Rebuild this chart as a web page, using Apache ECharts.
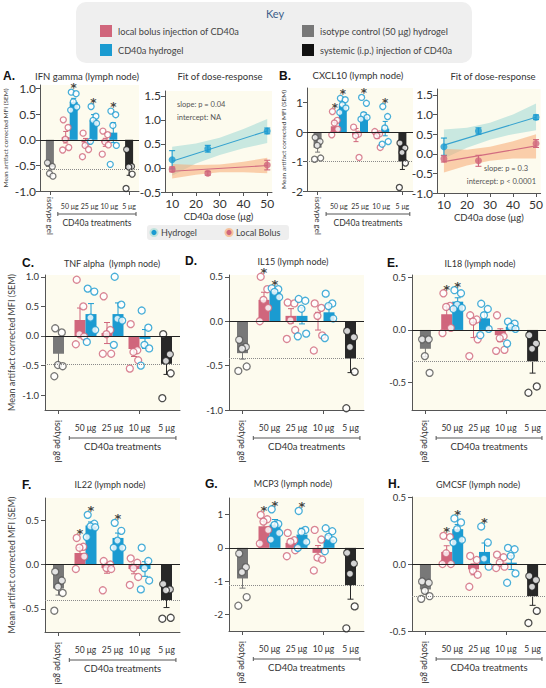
<!DOCTYPE html>
<html><head><meta charset="utf-8">
<script src="https://cdn.jsdelivr.net/npm/echarts@6/dist/echarts.min.js"></script>
<style>html,body{margin:0;padding:0;background:#fff}#c{width:546px;height:688px}</style>
</head><body><div id="c"></div>
<script>
// ---------------- DATA ----------------
const categories = ['isotype gel', '50 μg', '25 μg', '10 μg', '5 μg'];
const fitDoses = [10, 25, 50];
const bandDoses = [10, 20, 30, 40, 50];
const lineDoses = [10, 50];
const doseTicks = [10, 20, 30, 40, 50];

// A. IFN gamma
const A_pink = [0.05, -0.05, -0.05];
const A_blue = [0.74, 0.38, 0.14];
const A_ctrl = [-0.53, -0.57];
const A_ptsIso = [-0.45, -0.52, -0.66, -0.71];
const A_ptsPink = [[0.39, 0.24, 0.01, -0.15, -0.2], [0.13, -0.04, -0.11, -0.19, -0.33], [0.17, 0.1, -0.04, -0.1, -0.28]];
const A_ptsBlue = [[0.93, 0.9, 0.74, 0.64, 0.58], [0.65, 0.46, 0.38, 0.32, -0.03], [0.56, 0.49, 0.28, -0.11, -0.48]];
const A_ptsSys = [-0.19, -0.52, -0.53, -0.67, -0.95];
const A_starPink = [0, 0, 0];
const A_starBlue = [1, 1, 1];

// B. CXCL10
const B_pink = [0.2, -0.1, -0.1];
const B_blue = [0.9, 0.52, 0.12];
const B_ctrl = [-0.53, -1.0];
const B_ptsIso = [-0.18, -0.32, -0.45, -0.88, -0.92];
const B_ptsPink = [[0.7, 0.4, 0.31, 0.1, -0.09], [0.17, -0.07, -0.12, -0.86], [0.02, -0.06, -0.12, -0.52]];
const B_ptsBlue = [[1.15, 1.1, 0.93, 0.82, 0.67], [1.18, 0.98, 0.59, 0.5, 0.44], [0.87, 0.53, 0.14, -0.32, -0.41]];
const B_ptsSys = [-0.37, -0.54, -0.69, -1.05, -1.88];
const B_starPink = [1, 0, 0];
const B_starBlue = [1, 1, 1];

// C. TNF alpha
const C_pink = [0.27, 0.05, -0.22];
const C_blue = [0.37, 0.37, -0.05];
const C_ctrl = [-0.3, -0.47];
const C_ptsIso = [0.13, 0.06, -0.49, -0.51, -0.68];
const C_ptsPink = [[0.95, 0.5, 0.03, -0.01, -0.14], [0.67, 0.1, 0.03, -0.3, -0.3], [0.2, -0.24, -0.27, -0.41, -0.55]];
const C_ptsBlue = [[0.8, 0.75, 0.31, 0.1, -0.1], [1.0, 0.53, 0.29, 0.26, -0.15], [0.43, 0.14, -0.15, -0.21, -0.5]];
const C_ptsSys = [0.03, -0.31, -0.42, -0.63, -1.05];
const C_starPink = [0, 0, 0];
const C_starBlue = [0, 0, 0];

// D. IL15
const D_pink = [0.24, 0.06, 0.0];
const D_blue = [0.33, 0.06, 0.1];
const D_ctrl = [-0.36, -0.42];
const D_ptsIso = [-0.21, -0.29, -0.31, -0.51, -0.56];
const D_ptsPink = [[0.5, 0.36, 0.24, 0.15, 0.0], [0.21, 0.2, 0.01, -0.1, -0.2], [0.2, 0.15, 0.06, -0.16, -0.33]];
const D_ptsBlue = [[0.37, 0.36, 0.33, 0.27], [0.25, 0.23, 0.14, -0.14, -0.17], [0.31, 0.2, 0.17, 0.03, -0.19]];
const D_ptsSys = [-0.11, -0.18, -0.29, -0.57, -0.98];
const D_starPink = [1, 0, 0];
const D_starBlue = [1, 0, 0];

// E. IL18
const E_pink = [0.15, 0.0, -0.05];
const E_blue = [0.27, 0.11, 0.03];
const E_ctrl = [-0.18, -0.3];
const E_ptsIso = [-0.09, -0.09, -0.25, -0.41];
const E_ptsPink = [[0.35, 0.23, 0.22, 0.02, -0.03], [0.14, 0.1, 0.08, -0.09, -0.25], [0.14, -0.06, -0.08, -0.19, -0.2]];
const E_ptsBlue = [[0.38, 0.35, 0.24, 0.21, 0.2], [0.25, 0.2, 0.14, 0.01, -0.05], [0.08, 0.06, 0.03, 0.01, -0.13]];
const E_ptsSys = [-0.05, -0.13, -0.18, -0.54, -0.6];
const E_starPink = [1, 0, 0];
const E_starBlue = [1, 0, 0];

// F. IL22
const F_pink = [0.13, -0.04, -0.05];
const F_blue = [0.44, 0.3, -0.05];
const F_ctrl = [-0.27, -0.4];
const F_ptsIso = [-0.08, -0.18, -0.25, -0.32, -0.52];
const F_ptsPink = [[0.3, 0.2, 0.19, 0.09, -0.05], [0.04, 0.0, -0.04, -0.05, -0.29], [0.07, 0.02, -0.04, -0.14, -0.23]];
const F_ptsBlue = [[0.56, 0.46, 0.43, 0.42, 0.31], [0.47, 0.38, 0.27, 0.19, 0.19], [0.19, 0.04, -0.04, -0.18, -0.28]];
const F_ptsSys = [-0.22, -0.28, -0.29, -0.6, -0.61];
const F_starPink = [1, 0, 0];
const F_starBlue = [1, 1, 0];

// G. MCP3
const G_pink = [0.65, 0.15, -0.15];
const G_blue = [0.7, 0.4, 0.25];
const G_ctrl = [-0.92, -1.12];
const G_ptsIso = [-0.17, -0.58, -0.73, -1.48, -1.74];
const G_ptsPink = [[0.99, 0.86, 0.79, 0.54, 0.13], [0.45, 0.23, 0.18, -0.07, -0.25], [0.54, 0.25, -0.29, -0.35, -0.68]];
const G_ptsBlue = [[1.16, 0.72, 0.69, 0.45, 0.25], [1.11, 0.54, 0.48, 0.18, 0.0], [0.59, 0.5, 0.33, 0.23, -0.1]];
const G_ptsSys = [-0.15, -0.47, -0.78, -1.76, -2.42];
const G_starPink = [1, 0, 0];
const G_starBlue = [1, 1, 0];

// H. GMCSF
const H_pink = [0.09, -0.04, 0.0];
const H_blue = [0.26, 0.09, 0.01];
const H_ctrl = [-0.19, -0.24];
const H_ptsIso = [-0.13, -0.14, -0.2, -0.24, -0.26];
const H_ptsPink = [[0.21, 0.2, 0.08, 0.0, 0.0], [0.06, 0.03, -0.05, -0.08, -0.17], [0.07, 0.05, 0.01, -0.02, -0.03]];
const H_ptsBlue = [[0.34, 0.31, 0.26, 0.18, 0.16], [0.28, 0.16, 0.04, -0.02], [0.12, 0.11, 0.06, -0.07, -0.14]];
const H_ptsSys = [-0.09, -0.12, -0.17, -0.35, -0.44];
const H_starPink = [1, 0, 0];
const H_starBlue = [1, 1, 0];

// Fits of dose-response
const fitA_hydro = [0.17, 0.40, 0.77];
const fitA_hydroSem = [0.19, 0.07, 0.06];
const fitA_bolus = [-0.03, -0.11, 0.06];
const fitA_bolusSem = [0.05, 0.04, 0.1];
const fitA_hydroLine = [0.14, 0.77];
const fitA_bolusLine = [-0.07, 0.05];
const fitA_hydroLo = [-0.16, 0.09, 0.27, 0.41, 0.52];
const fitA_hydroHi = [0.44, 0.51, 0.63, 0.81, 1.02];
const fitA_bolusLo = [-0.22, -0.14, -0.09, -0.09, -0.11];
const fitA_bolusHi = [0.08, 0.06, 0.07, 0.13, 0.21];

const fitB_hydro = [0.18, 0.58, 0.93];
const fitB_hydroSem = [0.22, 0.08, 0.06];
const fitB_bolus = [-0.13, -0.18, 0.26];
const fitB_bolusSem = [0.08, 0.14, 0.1];
const fitB_hydroLine = [0.22, 0.93];
const fitB_bolusLine = [-0.2, 0.2];
const fitB_hydroLo = [-0.12, 0.15, 0.36, 0.5, 0.6];
const fitB_hydroHi = [0.62, 0.66, 0.79, 1.0, 1.28];
const fitB_bolusLo = [-0.48, -0.3, -0.18, -0.12, -0.12];
const fitB_bolusHi = [0.12, 0.1, 0.18, 0.32, 0.5];

// ---------------- CHART ----------------
const FONT = "Lato, 'Open Sans', sans-serif";
const COL = {pink: '#d0667c', blue: '#1b9bd1', gray: '#787878', black: '#282828', bg: '#fdfbee',
  teal: '#c9e8e0', orange: 'rgba(247,170,115,0.55)', axis: '#555', text: '#333'};

const chart = echarts.init(document.getElementById('c'), null, {renderer: 'svg', width: 546, height: 688});
const opt = {animation: false, backgroundColor: '#fff', grid: [], xAxis: [], yAxis: [], series: []};
const brackets = [];

function mean(a) { return a.reduce((s, v) => s + v, 0) / a.length; }
function sem(a) {
  const m = mean(a);
  const sd = Math.sqrt(a.reduce((s, v) => s + (v - m) * (v - m), 0) / (a.length - 1));
  return sd / Math.sqrt(a.length);
}
function jit(k) { return [-0.3, 0.3, -0.05, 0.38, -0.38, 0.15][k % 6]; }

function yAxisCfg(gi, c, small) {
  return {type: 'value', gridIndex: gi, min: c.ymin, max: c.ymax,
    axisLine: {show: true, onZero: false, lineStyle: {color: COL.axis, width: 1}},
    axisTick: {show: true, length: 4, customValues: c.ticks, lineStyle: {color: COL.axis}},
    axisLabel: {customValues: c.ticks, formatter: v => v.toFixed(c.dec), fontSize: small ? 12 : 9.5,
      color: COL.text, fontFamily: FONT, margin: small ? 4 : 6},
    splitLine: {show: false},
    name: c.yname ? 'Mean artifact corrected MFI (SEM)' : '', nameLocation: 'middle', nameGap: c.nameGap || 30,
    nameRotate: 90, nameTextStyle: {fontSize: small ? 6.5 : 9, color: '#444', fontFamily: FONT}};
}

function addBarPanel(c) {
  const gi = opt.grid.length, xa = opt.xAxis.length, ya = opt.yAxis.length;
  const small = !!c.small;
  const lf = small ? 7 : 8.5;
  const bw = small ? 8 : 11, ps = small ? 6 : 7;
  opt.grid.push({left: c.left, top: c.top, width: c.width, height: c.height, show: true,
    backgroundColor: COL.bg, borderWidth: 0});
  opt.xAxis.push({type: 'category', gridIndex: gi, data: categories, position: 'bottom',
    axisLine: {show: true, onZero: false, lineStyle: {color: COL.axis, width: 1}},
    axisTick: {show: true, alignWithLabel: true, length: 4, lineStyle: {color: COL.axis}},
    axisLabel: {show: false},
    splitLine: {show: false}});
  opt.xAxis.push({type: 'category', gridIndex: gi, data: categories, position: 'bottom',
    axisLine: {show: false, onZero: false}, axisTick: {show: false},
    axisLabel: {interval: 0, margin: small ? 11 : 13, fontSize: lf, color: COL.text, fontFamily: FONT,
      formatter: (v, i) => i === 0 ? '' : v},
    splitLine: {show: false}});
  opt.yAxis.push(yAxisCfg(gi, c, small));

  const iso = c.ctrl[0], sys = c.ctrl[1];
  opt.series.push({name: 'isotype control (50 μg) hydrogel', type: 'bar', xAxisIndex: xa, yAxisIndex: ya,
    stack: 'ctrl' + gi, barWidth: bw, data: [iso, '-', '-', '-', '-'], itemStyle: {color: COL.gray}, z: 2,
    markLine: {silent: true, symbol: 'none', label: {show: false}, animation: false,
      lineStyle: {color: '#222', width: 1, type: 'solid'}, data: [{yAxis: 0}]}});
  opt.series.push({name: 'systemic (i.p.) injection of CD40a', type: 'bar', xAxisIndex: xa, yAxisIndex: ya,
    stack: 'ctrl' + gi, barWidth: bw, data: ['-', '-', '-', '-', sys], itemStyle: {color: COL.black}, z: 2,
    markLine: {silent: true, symbol: 'none', label: {show: false}, animation: false,
      lineStyle: {color: '#8a8a8a', width: 1, type: 'dotted'}, data: [{yAxis: sys}]}});
  opt.series.push({name: 'local bolus injection of CD40a', type: 'bar', xAxisIndex: xa + 1, yAxisIndex: ya,
    barWidth: bw, barGap: '0%', data: ['-', ...c.pink, '-'], itemStyle: {color: COL.pink}, z: 2});
  opt.series.push({name: 'CD40a hydrogel', type: 'bar', xAxisIndex: xa + 1, yAxisIndex: ya,
    barWidth: bw, barGap: '0%', data: ['-', ...c.blue, '-'], itemStyle: {color: COL.blue}, z: 2});

  const groups = [{cat: 0, off: 0, pts: c.ptsIso, mean: iso, fill: COL.gray, stroke: '#555', star: 0}];
  for (let d = 0; d < 3; d++) {
    groups.push({cat: d + 1, off: -bw / 2, pts: c.ptsPink[d], mean: c.pink[d], fill: COL.pink, stroke: COL.pink, star: c.starPink[d]});
    groups.push({cat: d + 1, off: bw / 2, pts: c.ptsBlue[d], mean: c.blue[d], fill: COL.blue, stroke: COL.blue, star: c.starBlue[d]});
  }
  groups.push({cat: 4, off: 0, pts: c.ptsSys, mean: sys, fill: COL.black, stroke: '#222', star: 0});

  // error bars (SEM)
  opt.series.push({type: 'custom', xAxisIndex: xa, yAxisIndex: ya, z: 3, silent: true,
    data: groups.map(g => [g.cat, g.mean, sem(g.pts)]),
    renderItem: (params, api) => {
      const g = groups[params.dataIndex];
      const cidx = api.value(0), m = api.value(1), s = api.value(2);
      const p1 = api.coord([cidx, m + s]), p2 = api.coord([cidx, m - s]);
      const x = p1[0] + g.off, cw = small ? 2.5 : 3;
      const st = {stroke: g.fill, lineWidth: 1};
      return {type: 'group', children: [
        {type: 'line', shape: {x1: x, y1: p1[1], x2: x, y2: p2[1]}, style: st},
        {type: 'line', shape: {x1: x - cw, y1: p1[1], x2: x + cw, y2: p1[1]}, style: st},
        {type: 'line', shape: {x1: x - cw, y1: p2[1], x2: x + cw, y2: p2[1]}, style: st}]};
    }});

  // individual points
  groups.forEach(g => {
    opt.series.push({type: 'scatter', xAxisIndex: xa, yAxisIndex: ya, z: 4, silent: true,
      symbol: 'circle', symbolSize: ps,
      itemStyle: {color: '#fff', borderColor: g.stroke, borderWidth: 1.3},
      data: g.pts.map((v, k) => ({value: [g.cat, v], symbolOffset: [g.off + jit(k) * bw, 0]}))});
  });

  // significance stars
  const starItems = groups.filter(g => g.star).map(g => ({value: [g.cat, Math.max(...g.pts)],
    label: {offset: [g.off, -4]}}));
  if (starItems.length) {
    opt.series.push({type: 'scatter', xAxisIndex: xa, yAxisIndex: ya, z: 6, silent: true,
      symbol: 'circle', symbolSize: 1, itemStyle: {color: 'rgba(0,0,0,0)'},
      label: {show: true, position: 'inside', formatter: '*', fontSize: small ? 12 : 13, fontWeight: 'bold',
        color: '#111', fontFamily: 'DejaVu Sans', lineHeight: 10},
      data: starItems});
  }
  brackets.push({xa: xa + 1, xaCtrl: xa, bottom: c.top + c.height, small});
}

function addFitPanel(c) {
  const gi = opt.grid.length, xa = opt.xAxis.length, ya = opt.yAxis.length;
  opt.grid.push({left: c.left, top: c.top, width: c.width, height: c.height, show: true,
    backgroundColor: COL.bg, borderWidth: 0});
  opt.xAxis.push({type: 'value', gridIndex: gi, min: 7, max: 52, position: 'bottom',
    axisLine: {show: true, onZero: false, lineStyle: {color: COL.axis, width: 1}},
    axisTick: {show: true, length: 4, customValues: doseTicks, lineStyle: {color: COL.axis}},
    axisLabel: {customValues: doseTicks, fontSize: 12, margin: 5, color: COL.text, fontFamily: FONT},
    splitLine: {show: false},
    name: 'CD40a dose (μg)', nameLocation: 'middle', nameGap: 19,
    nameTextStyle: {fontSize: 9.5, color: COL.text, fontFamily: FONT}});
  opt.yAxis.push(yAxisCfg(gi, c, true));

  const band = (lo, hi, color) => ({type: 'custom', xAxisIndex: xa, yAxisIndex: ya, z: 1, silent: true,
    data: bandDoses.map((d, i) => [d, lo[i], hi[i]]), encode: {x: 0, y: [1, 2]},
    renderItem: (params, api) => {
      if (params.dataIndex !== 0) return null;
      const pts = [];
      for (let i = 0; i < bandDoses.length; i++) pts.push(api.coord([bandDoses[i], hi[i]]));
      for (let i = bandDoses.length - 1; i >= 0; i--) pts.push(api.coord([bandDoses[i], lo[i]]));
      return {type: 'polygon', shape: {points: pts}, style: {fill: color}};
    }});
  opt.series.push(band(c.hydroLo, c.hydroHi, COL.teal));
  opt.series.push(band(c.bolusLo, c.bolusHi, COL.orange));

  const line = (vals, color) => ({type: 'line', xAxisIndex: xa, yAxisIndex: ya, z: 3, silent: true,
    symbol: 'none', lineStyle: {color, width: 1.1}, data: lineDoses.map((d, i) => [d, vals[i]])});
  opt.series.push(line(c.hydroLine, '#36a2cf'));
  opt.series.push(line(c.bolusLine, '#d26c80'));

  const err = (vals, sems, color) => ({type: 'custom', xAxisIndex: xa, yAxisIndex: ya, z: 4, silent: true,
    data: fitDoses.map((d, i) => [d, vals[i], sems[i]]),
    renderItem: (params, api) => {
      const d = api.value(0), m = api.value(1), s = api.value(2);
      const p1 = api.coord([d, m + s]), p2 = api.coord([d, m - s]);
      const x = p1[0], cw = 3, st = {stroke: color, lineWidth: 1.1};
      return {type: 'group', children: [
        {type: 'line', shape: {x1: x, y1: p1[1], x2: x, y2: p2[1]}, style: st},
        {type: 'line', shape: {x1: x - cw, y1: p1[1], x2: x + cw, y2: p1[1]}, style: st},
        {type: 'line', shape: {x1: x - cw, y1: p2[1], x2: x + cw, y2: p2[1]}, style: st}]};
    }});
  opt.series.push(err(c.hydro, c.hydroSem, COL.blue));
  opt.series.push(err(c.bolus, c.bolusSem, COL.pink));
  const pts = (vals, color, name) => ({name, type: 'scatter', xAxisIndex: xa, yAxisIndex: ya, z: 5, silent: true,
    symbol: 'circle', symbolSize: 7, itemStyle: {color}, data: fitDoses.map((d, i) => [d, vals[i]])});
  opt.series.push(pts(c.hydro, COL.blue, 'Hydrogel'));
  opt.series.push(pts(c.bolus, COL.pink, 'Local Bolus'));
}

const T1 = [-1, -0.5, 0, 0.5, 1];
addBarPanel({left: 40, top: 85, width: 99, height: 106, ymin: -1, ymax: 1.07, ticks: T1, dec: 1, small: true,
  yname: true, nameGap: 31, pink: A_pink, blue: A_blue, ctrl: A_ctrl, ptsIso: A_ptsIso, ptsPink: A_ptsPink,
  ptsBlue: A_ptsBlue, ptsSys: A_ptsSys, starPink: A_starPink, starBlue: A_starBlue});
addFitPanel({left: 165, top: 91, width: 107, height: 101, ymin: -0.5, ymax: 1.6, ticks: [-0.5, 0, 0.5, 1, 1.5], dec: 1,
  hydro: fitA_hydro, hydroSem: fitA_hydroSem, bolus: fitA_bolus, bolusSem: fitA_bolusSem,
  hydroLine: fitA_hydroLine, bolusLine: fitA_bolusLine, hydroLo: fitA_hydroLo, hydroHi: fitA_hydroHi,
  bolusLo: fitA_bolusLo, bolusHi: fitA_bolusHi});
addBarPanel({left: 307, top: 88, width: 106, height: 103, ymin: -2, ymax: 1.5, ticks: [-2, -1, 0, 1], dec: 0, small: true,
  yname: true, nameGap: 20, pink: B_pink, blue: B_blue, ctrl: B_ctrl, ptsIso: B_ptsIso, ptsPink: B_ptsPink,
  ptsBlue: B_ptsBlue, ptsSys: B_ptsSys, starPink: B_starPink, starBlue: B_starBlue});
addFitPanel({left: 437, top: 89, width: 108, height: 104, ymin: -1, ymax: 1.65, ticks: [-1, -0.5, 0, 0.5, 1, 1.5], dec: 1,
  hydro: fitB_hydro, hydroSem: fitB_hydroSem, bolus: fitB_bolus, bolusSem: fitB_bolusSem,
  hydroLine: fitB_hydroLine, bolusLine: fitB_bolusLine, hydroLo: fitB_hydroLo, hydroHi: fitB_hydroHi,
  bolusLo: fitB_bolusLo, bolusHi: fitB_bolusHi});
addBarPanel({left: 45, top: 275, width: 135, height: 135, ymin: -1.25, ymax: 1.03, ticks: T1, dec: 1,
  yname: true, nameGap: 29, pink: C_pink, blue: C_blue, ctrl: C_ctrl, ptsIso: C_ptsIso, ptsPink: C_ptsPink,
  ptsBlue: C_ptsBlue, ptsSys: C_ptsSys, starPink: C_starPink, starBlue: C_starBlue});
addBarPanel({left: 229, top: 275, width: 135, height: 135, ymin: -1.0, ymax: 0.52, ticks: [-1, -0.5, 0, 0.5], dec: 1,
  pink: D_pink, blue: D_blue, ctrl: D_ctrl, ptsIso: D_ptsIso, ptsPink: D_ptsPink,
  ptsBlue: D_ptsBlue, ptsSys: D_ptsSys, starPink: D_starPink, starBlue: D_starBlue});
addBarPanel({left: 412, top: 275, width: 134, height: 135, ymin: -0.765, ymax: 0.525, ticks: [-0.5, 0, 0.5], dec: 1,
  pink: E_pink, blue: E_blue, ctrl: E_ctrl, ptsIso: E_ptsIso, ptsPink: E_ptsPink,
  ptsBlue: E_ptsBlue, ptsSys: E_ptsSys, starPink: E_starPink, starBlue: E_starBlue});
addBarPanel({left: 45, top: 498, width: 135, height: 134, ymin: -0.76, ymax: 0.75, ticks: [-0.5, 0, 0.5], dec: 1,
  yname: true, nameGap: 29, pink: F_pink, blue: F_blue, ctrl: F_ctrl, ptsIso: F_ptsIso, ptsPink: F_ptsPink,
  ptsBlue: F_ptsBlue, ptsSys: F_ptsSys, starPink: F_starPink, starBlue: F_starBlue});
addBarPanel({left: 229, top: 498, width: 135, height: 133, ymin: -2.5, ymax: 1.5, ticks: [-2, -1, 0, 1], dec: 0,
  pink: G_pink, blue: G_blue, ctrl: G_ctrl, ptsIso: G_ptsIso, ptsPink: G_ptsPink,
  ptsBlue: G_ptsBlue, ptsSys: G_ptsSys, starPink: G_starPink, starBlue: G_starBlue});
addBarPanel({left: 412, top: 497, width: 134, height: 134, ymin: -0.5, ymax: 0.5, ticks: [-0.5, 0, 0.5], dec: 1,
  pink: H_pink, blue: H_blue, ctrl: H_ctrl, ptsIso: H_ptsIso, ptsPink: H_ptsPink,
  ptsBlue: H_ptsBlue, ptsSys: H_ptsSys, starPink: H_starPink, starBlue: H_starBlue});

chart.setOption(opt);

// ---------------- TEXT / KEY / BRACKETS ----------------
const gfx = [];
function txt(text, x, y, o) {
  o = o || {};
  gfx.push({type: 'text', x, y, rotation: o.rot || 0, silent: true, z: 100, style: {text, fill: o.fill || COL.text,
    fontSize: o.size || 9, fontFamily: o.family || FONT, fontWeight: o.weight || 'normal',
    textAlign: o.align || 'center', align: o.align || 'center', textVerticalAlign: 'middle', verticalAlign: 'middle'}});
}
function rect(x, y, w, h, fill, r) {
  gfx.push({type: 'rect', silent: true, z: 90, shape: {x, y, width: w, height: h, r: r || 0}, style: {fill}});
}
function circ(cx, cy, r, fill) {
  gfx.push({type: 'circle', silent: true, z: 95, shape: {cx, cy, r}, style: {fill}});
}
function seg(x1, y1, x2, y2) {
  gfx.push({type: 'line', silent: true, z: 95, shape: {x1, y1, x2, y2}, style: {stroke: '#555', lineWidth: 1}});
}

// Key box
rect(76, 2, 396, 61, '#efefef', 10);
txt('Key', 275, 13, {size: 11, fill: '#3d5f8a'});
rect(100, 25, 12, 12, COL.pink); txt('local bolus injection of CD40a', 118, 31, {align: 'left', size: 9.2, fill: '#444'});
rect(100, 44, 12, 12, COL.blue); txt('CD40a hydrogel', 118, 50, {align: 'left', size: 9.2, fill: '#444'});
rect(302, 25, 12, 12, COL.gray); txt('isotype control (50 μg) hydrogel', 320, 31, {align: 'left', size: 9.2, fill: '#444'});
rect(302, 44, 12, 12, '#111'); txt('systemic (i.p.) injection of CD40a', 320, 50, {align: 'left', size: 9.2, fill: '#444'});

// Fit legend
rect(147, 225, 142, 15, '#eeeeee', 3);
circ(154, 232.5, 4.5, '#bfe3dc'); circ(154, 232.5, 2.6, COL.blue);
txt('Hydrogel', 161, 232.5, {align: 'left', size: 9, fill: '#444'});
circ(229, 232.5, 4.5, '#f6c29c'); circ(229, 232.5, 2.6, COL.pink);
txt('Local Bolus', 236, 232.5, {align: 'left', size: 9, fill: '#444'});

// Titles and panel letters
const LET = {size: 12, weight: 'bold', family: "'Liberation Sans', Arial, sans-serif", fill: '#111', align: 'left'};
txt('A.', 3, 76, LET); txt('IFN gamma (lymph node)', 87, 76, {size: 9.5});
txt('Fit of dose-response', 220, 76, {size: 9.5});
txt('B.', 279, 76, LET); txt('CXCL10 (lymph node)', 358, 75, {size: 9.5});
txt('Fit of dose-response', 493, 76, {size: 9.5});
txt('C.', 22, 263, LET); txt('TNF alpha  (lymph node)', 112, 263, {size: 9});
txt('D.', 185, 261, LET); txt('IL15 (lymph node)', 293, 261, {size: 9});
txt('E.', 387, 263, LET); txt('IL18 (lymph node)', 480, 263, {size: 9});
txt('F.', 22, 485, LET); txt('IL22 (lymph node)', 110, 484, {size: 9});
txt('G.', 205, 484, LET); txt('MCP3 (lymph node)', 293, 483, {size: 9});
txt('H.', 388, 484, LET); txt('GMCSF (lymph node)', 478, 484, {size: 9});

// Fit annotations
txt('slope: p = 0.04', 177, 104, {align: 'left', size: 7.5, fill: '#555'});
txt('intercept: NA', 177, 117, {align: 'left', size: 7.5, fill: '#555'});
txt('slope: p = 0.3', 528, 168, {align: 'right', size: 7.5, fill: '#555'});
txt('intercept: p < 0.0001', 536, 181, {align: 'right', size: 7.5, fill: '#555'});

// Rotated isotype label + treatment brackets
brackets.forEach(b => {
  const x0 = chart.convertToPixel({xAxisIndex: b.xaCtrl}, categories[0]);
  txt(categories[0], x0, b.bottom + (b.small ? 6 : 10), {align: 'left', size: b.small ? 8 : 9, rot: -Math.PI / 2});
  const x1 = chart.convertToPixel({xAxisIndex: b.xa}, categories[1]);
  const x4 = chart.convertToPixel({xAxisIndex: b.xa}, categories[4]);
  const w = (x4 - x1) / 3;
  const xs = x1 - 0.6 * w, xe = x4 + 0.35 * w;
  const yb = b.bottom + (b.small ? 23 : 28);
  seg(xs, yb, xe, yb); seg(xs, yb - 2, xs, yb + 2); seg(xe, yb - 2, xe, yb + 2);
  txt('CD40a treatments', (xs + xe) / 2, b.bottom + (b.small ? 32 : 36), {size: b.small ? 8.5 : 9.5});
});

chart.setOption({graphic: gfx});
</script></body></html>
